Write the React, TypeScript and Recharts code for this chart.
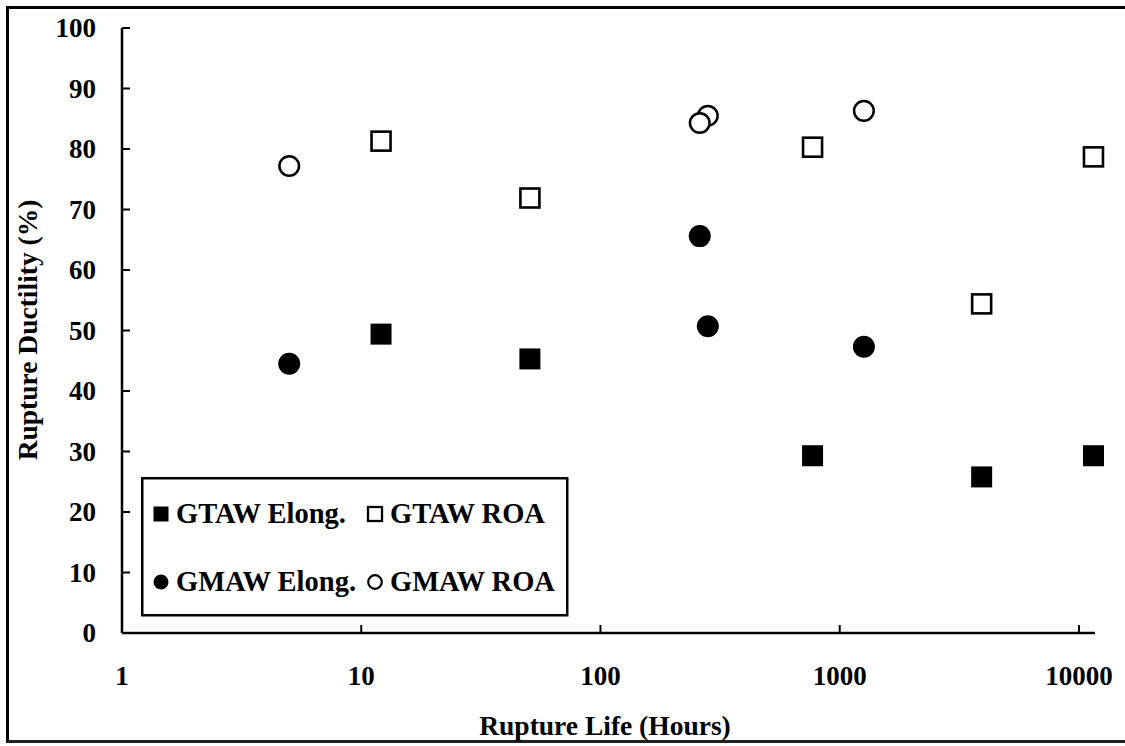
import React from "react";
import { ScatterChart, Scatter, XAxis, YAxis, Legend } from "recharts";

const FONT = "'Liberation Serif', 'Times New Roman', serif";

// Rupture life (hours) and ductility (%)
const gtawLife = [12.1, 50.7, 770, 3920, 11500];
const gtawElong = [49.4, 45.3, 29.3, 25.8, 29.3];
const gtawRoa = [81.3, 71.9, 80.3, 54.4, 78.7];

const gmawLife = [5, 281, 260, 1262];
const gmawElong = [44.5, 50.7, 65.6, 47.3];
const gmawRoa = [77.2, 85.5, 84.3, 86.3];

const xTicks = [1, 10, 100, 1000, 10000];
const yTicks = [0, 10, 20, 30, 40, 50, 60, 70, 80, 90, 100];

const seriesNames = ["GTAW Elong.", "GTAW ROA", "GMAW Elong.", "GMAW ROA"];

const toPoints = (xs: number[], ys: number[]) => xs.map((x, i) => ({ x, y: ys[i] }));

const gtawElongData = toPoints(gtawLife, gtawElong);
const gtawRoaData = toPoints(gtawLife, gtawRoa);
const gmawElongData = toPoints(gmawLife, gmawElong);
const gmawRoaData = toPoints(gmawLife, gmawRoa);

const FilledSquare = (p: any) => (
  <rect x={p.cx - 10.5} y={p.cy - 10.5} width={21} height={21} fill="#000" />
);
const OpenSquare = (p: any) => (
  <rect x={p.cx - 9.5} y={p.cy - 9.5} width={19} height={19} fill="#fff" stroke="#000" strokeWidth={2.6} />
);
const FilledCircle = (p: any) => <circle cx={p.cx} cy={p.cy} r={11} fill="#000" />;
const OpenCircle = (p: any) => (
  <circle cx={p.cx} cy={p.cy} r={9.8} fill="#fff" stroke="#000" strokeWidth={2.5} />
);

const XTick = (props: any) => {
  const { x, y, payload } = props;
  return (
    <g>
      <line x1={x} y1={y} x2={x} y2={y - 8} stroke="#000" strokeWidth={2} />
      <text x={x} y={y + 52} textAnchor="middle" fontFamily={FONT} fontWeight="bold" fontSize={27} fill="#000">
        {payload.value}
      </text>
    </g>
  );
};

const YTick = (props: any) => {
  const { x, y, payload } = props;
  return (
    <g>
      <line x1={x} y1={y} x2={x + 8} y2={y} stroke="#000" strokeWidth={2} />
      <text x={x - 26} y={y + 9} textAnchor="end" fontFamily={FONT} fontWeight="bold" fontSize={27} fill="#000">
        {payload.value}
      </text>
    </g>
  );
};

const XTitle = () => (
  <text x={605} y={735} textAnchor="middle" fontFamily={FONT} fontWeight="bold" fontSize={27.5} fill="#000">
    Rupture Life (Hours)
  </text>
);

const YTitle = () => (
  <text x={37} y={330} transform="rotate(-90 37 330)" textAnchor="middle" fontFamily={FONT} fontWeight="bold" fontSize={27.5} fill="#000">
    Rupture Ductility (%)
  </text>
);

const legendMarkers = [
  (cx: number, cy: number) => <rect x={cx - 7.5} y={cy - 7.5} width={15} height={15} fill="#000" />,
  (cx: number, cy: number) => <rect x={cx - 7} y={cy - 7} width={14} height={14} fill="#fff" stroke="#000" strokeWidth={2.3} />,
  (cx: number, cy: number) => <circle cx={cx} cy={cy} r={7.5} fill="#000" />,
  (cx: number, cy: number) => <circle cx={cx} cy={cy} r={6.8} fill="#fff" stroke="#000" strokeWidth={2.2} />,
];

const LegendBox = () => {
  const cols = [20, 234];
  const rows = [37, 105];
  return (
    <svg width={428} height={140} style={{ display: "block" }}>
      <rect x={1.25} y={1.25} width={425} height={137} fill="#fff" stroke="#000" strokeWidth={2.5} />
      {seriesNames.map((name, i) => {
        const cx = cols[i % 2];
        const cy = rows[Math.floor(i / 2)];
        return (
          <g key={name}>
            {legendMarkers[i](cx, cy)}
            <text x={cx + 15} y={cy + 9} fontFamily={FONT} fontWeight="bold" fontSize={28.5} fill="#000">
              {name}
            </text>
          </g>
        );
      })}
    </svg>
  );
};

export default function App() {
  return (
    <div style={{ position: "absolute", left: 0, top: 0, width: 1125, height: 746, overflow: "hidden", background: "#fff" }}>
      <div
        style={{
          position: "absolute",
          left: 6,
          top: 6,
          width: 1140,
          height: 737,
          borderLeft: "3.5px solid #000",
          borderTop: "3.5px solid #000",
          borderBottom: "3px solid #222",
          boxSizing: "border-box",
        }}
      />
      <div style={{ position: "absolute", left: 0, top: 0 }}>
        <ScatterChart width={1125} height={746} margin={{ top: 28, right: 30, bottom: 53, left: 62 }}>
          <XAxis
            type="number"
            dataKey="x"
            scale="log"
            domain={[1, 11670]}
            ticks={xTicks}
            height={60}
            tickSize={0}
            tickMargin={0}
            tickLine={false}
            axisLine={{ stroke: "#000", strokeWidth: 2.5 }}
            tick={<XTick />}
            interval={0}
            label={{ content: <XTitle /> }}
          />
          <YAxis
            type="number"
            dataKey="y"
            domain={[0, 100]}
            ticks={yTicks}
            width={60}
            tickSize={0}
            tickMargin={0}
            tickLine={false}
            axisLine={{ stroke: "#000", strokeWidth: 2.5 }}
            tick={<YTick />}
            interval={0}
            label={{ content: <YTitle /> }}
          />
          <Legend
            layout="horizontal"
            verticalAlign="middle"
            align="center"
            content={<LegendBox />}
            wrapperStyle={{ position: "absolute", left: 141, top: 477, width: 428, height: 140 }}
          />
          <Scatter name={seriesNames[0]} data={gtawElongData} fill="#000" shape={FilledSquare} isAnimationActive={false} />
          <Scatter name={seriesNames[1]} data={gtawRoaData} fill="#fff" shape={OpenSquare} isAnimationActive={false} />
          <Scatter name={seriesNames[2]} data={gmawElongData} fill="#000" shape={FilledCircle} isAnimationActive={false} />
          <Scatter name={seriesNames[3]} data={gmawRoaData} fill="#fff" shape={OpenCircle} isAnimationActive={false} />
        </ScatterChart>
      </div>
    </div>
  );
}
